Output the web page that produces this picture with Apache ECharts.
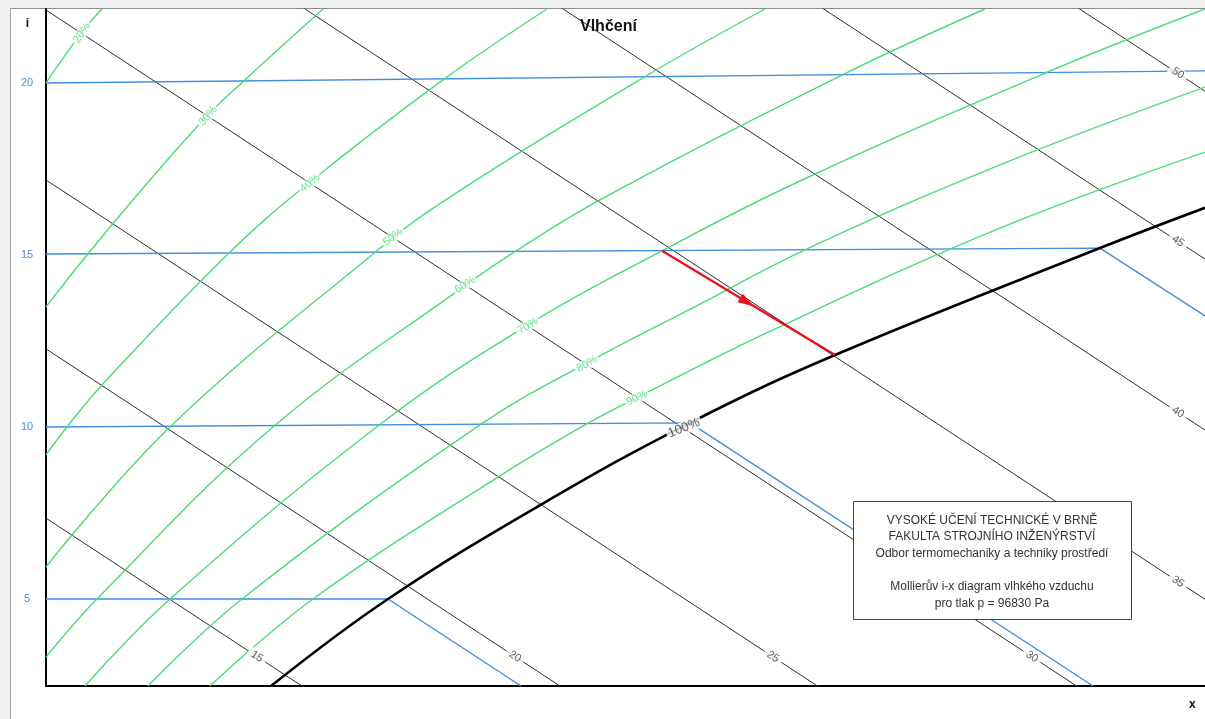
<!DOCTYPE html>
<html><head><meta charset="utf-8">
<script src="https://cdn.jsdelivr.net/npm/echarts@6/dist/echarts.min.js"></script>
<style>
html,body{margin:0;padding:0;background:#f0f0f0;width:1205px;height:719px;overflow:hidden}
#frame{position:absolute;left:10px;top:8px;width:1300px;height:800px;background:#fff;border-left:1px solid #a8a8a8;border-top:1px solid #8c8c8c;box-sizing:border-box}
#chart{position:absolute;left:0;top:0;width:1205px;height:719px}
</style></head><body>
<div id="frame"></div><div id="chart"></div>
<script>
// ---- axis extents (x: humidity ratio, y: vertical i-coordinate labelled by temperature) ----
const xRange = [3, 12.272];
const yRange = [2.47, 22.15];
const tempTicks = [5, 10, 15, 20];

// ---- isenthalps (y value at left edge x=3 and right edge x=12.272) ----
const enthalpyValues = [15, 20, 25, 30, 35, 40, 45, 50];
const enthalpyAtLeft = [7.35, 12.27, 17.18, 22.12, 27.09, 32.01, 36.98, 41.86];
const enthalpyAtRight = [-14.75, -9.83, -4.92, 0.02, 4.99, 9.91, 14.88, 19.76];
const enthalpyLabelX = [4.688, 6.752, 8.816, 10.888, 12.056, 12.056, 12.056, 12.056];
const enthalpyLabelY = [3.33, 3.33, 3.32, 3.32, 5.50, 10.43, 15.40, 20.28];

// ---- isotherms ----
const iso5 = [[3, 5.00], [5.736, 5.00], [6.800, 2.47]];
const iso10 = [[3, 10.00], [8.152, 10.12], [11.376, 2.47]];
const iso15 = [[3, 15.03], [11.432, 15.20], [12.272, 13.23]];
const iso20 = [[3, 20.00], [12.272, 20.35]];

// ---- relative humidity curves ----
const rh20 = [[3.000, 20.00], [3.288, 21.48], [3.448, 22.15]];
const rh30 = [[3.000, 13.49], [3.328, 15.00], [3.832, 17.18], [4.296, 19.07], [4.592, 20.09], [5.216, 22.15]];
const rh40 = [[3.000, 9.19], [3.168, 10.00], [3.448, 11.22], [4.456, 15.03], [5.112, 17.12], [6.176, 20.09], [7.008, 22.15]];
const rh50 = [[3.000, 5.93], [3.992, 10.00], [5.616, 15.03], [6.176, 16.55], [7.776, 20.15], [8.752, 22.15]];
const rh60 = [[3.000, 3.31], [3.408, 5.00], [4.816, 10.00], [6.360, 14.13], [6.736, 15.06], [7.432, 16.60], [9.368, 20.23], [10.512, 22.15]];
const rh70 = [[3.312, 2.47], [3.992, 5.00], [5.656, 10.03], [6.856, 12.97], [7.928, 15.12], [9.032, 17.15], [10.976, 20.26], [12.272, 22.15]];
const rh80 = [[3.816, 2.47], [4.568, 5.00], [6.472, 10.06], [7.328, 11.86], [8.232, 13.57], [9.072, 15.15], [10.632, 17.62], [12.272, 19.88]];
const rh90 = [[4.312, 2.47], [5.136, 5.00], [6.632, 8.58], [7.312, 10.06], [7.720, 10.84], [8.816, 12.82], [10.632, 15.78], [12.272, 17.99]];
const rh100 = [[4.800, 2.47], [5.736, 5.00], [6.968, 7.76], [8.152, 10.12], [9.312, 12.09], [11.432, 15.20], [12.272, 16.37]];

const rhNames = ['20%', '30%', '40%', '50%', '60%', '70%', '80%', '90%', '100%'];
const rhLabelX = [3.288, 4.296, 5.112, 5.776, 6.352, 6.856, 7.328, 7.728, 8.104];
const rhLabelY = [21.45, 19.04, 17.09, 15.52, 14.13, 12.94, 11.83, 10.84, 9.97];
const rhLabelAngle = [55, 48, 40, 38, 33, 31, 29, 26, 22];

// ---- process (Vlhčení) ----
const processStart = [7.928, 15.12];
const processMid = [8.608, 13.63];
const processEnd = [9.312, 12.09];

const GREEN = '#48dc78', BLUE = '#3f8fe0', BLACK = '#000', GRAYLINE = '#2e2e2e', RED = '#e8141c';
const FONT = 'Liberation Sans, Arial, sans-serif';

const series = [];
enthalpyValues.forEach((h, k) => {
  series.push({type: 'line', name: 'i=' + h, z: 2, silent: true, symbol: 'none',
    lineStyle: {color: GRAYLINE, width: 1},
    data: [[xRange[0], enthalpyAtLeft[k]], [xRange[1], enthalpyAtRight[k]]]});
});
[iso5, iso10, iso15, iso20].forEach((d, k) => {
  series.push({type: 'line', name: 't=' + tempTicks[k], z: 3, silent: true, symbol: 'none',
    lineStyle: {color: BLUE, width: 1.4}, data: d});
});
[rh20, rh30, rh40, rh50, rh60, rh70, rh80, rh90].forEach((d, k) => {
  series.push({type: 'line', name: rhNames[k], z: 4, silent: true, symbol: 'none', smooth: 0.4,
    lineStyle: {color: GREEN, width: 1.4}, data: d});
});
series.push({type: 'line', name: '100%', z: 5, silent: true, symbol: 'none', smooth: 0.4,
  lineStyle: {color: BLACK, width: 2.6}, data: rh100});
series.push({type: 'line', name: 'Vlhčení', z: 6, silent: true, symbol: 'none', showSymbol: true,
  lineStyle: {color: RED, width: 2.4}, itemStyle: {color: RED},
  data: [{value: processStart},
         {value: processMid, symbol: 'triangle', symbolSize: [10, 16], symbolRotate: -121},
         {value: processEnd}]});
series.push({type: 'scatter', name: 'rhLabels', z: 8, silent: true, symbolSize: 1,
  itemStyle: {color: 'rgba(0,0,0,0)'},
  data: rhNames.map((n, k) => ({name: n, value: [rhLabelX[k], rhLabelY[k]],
    label: {rotate: rhLabelAngle[k], color: k === 8 ? '#333' : GREEN, fontSize: k === 8 ? 13 : 11}})),
  label: {show: true, position: 'inside', formatter: p => p.name, backgroundColor: '#fff',
    padding: [0, 2], fontFamily: FONT}});
series.push({type: 'scatter', name: 'hLabels', z: 8, silent: true, symbolSize: 1,
  itemStyle: {color: 'rgba(0,0,0,0)'},
  data: enthalpyValues.map((h, k) => ({name: String(h), value: [enthalpyLabelX[k], enthalpyLabelY[k]]})),
  label: {show: true, position: 'inside', formatter: p => p.name, rotate: -33, color: '#333',
    fontSize: 11, backgroundColor: '#fff', padding: [0, 4], fontFamily: FONT}});

const chart = echarts.init(document.getElementById('chart'), null, {renderer: 'canvas'});
chart.setOption({
  animation: false,
  backgroundColor: 'transparent',
  textStyle: {fontFamily: FONT},
  title: {text: 'Vlhčení', left: 580, top: 19, padding: 0,
    textStyle: {fontSize: 16, fontWeight: 'bold', color: '#111', fontFamily: FONT}},
  grid: {left: 46, right: 0, top: 9, bottom: 33, containLabel: false, outerBoundsMode: 'none'},
  xAxis: {type: 'value', min: xRange[0], max: xRange[1],
    axisLine: {show: true, onZero: false, lineStyle: {color: '#000', width: 2}},
    axisTick: {show: false}, axisLabel: {show: false}, splitLine: {show: false}},
  yAxis: {type: 'value', min: yRange[0], max: yRange[1],
    name: 'i', nameLocation: 'end', nameGap: -15,
    nameTextStyle: {fontWeight: 'bold', fontSize: 12, color: '#111', align: 'right', verticalAlign: 'middle', padding: [0, 17, 0, 0]},
    axisLine: {show: true, onZero: false, lineStyle: {color: '#000', width: 2}},
    axisTick: {show: false}, splitLine: {show: false},
    axisLabel: {customValues: tempTicks, color: '#4a8fd8', fontSize: 11, margin: 19, align: 'center'}},
  graphic: [
    {type: 'text', left: 1189, top: 699, z: 100, style: {text: 'x', fontSize: 12, fontWeight: 'bold', fill: '#111', fontFamily: FONT}},
    {type: 'rect', left: 853, top: 501, z: 100, shape: {x: 0, y: 0, width: 278, height: 118},
      style: {fill: '#fff', stroke: '#444', lineWidth: 1}},
    {type: 'text', x: 992, y: 512, z: 101, style: {
      text: 'VYSOKÉ UČENÍ TECHNICKÉ V BRNĚ\nFAKULTA STROJNÍHO INŽENÝRSTVÍ\nOdbor termomechaniky a techniky prostředí\n\nMollierův i-x diagram vlhkého vzduchu\npro tlak p = 96830 Pa',
      align: 'center', verticalAlign: 'top', fontSize: 12, lineHeight: 16.6, fill: '#333', fontFamily: FONT}}
  ],
  series: series
});
</script>
</body></html>
